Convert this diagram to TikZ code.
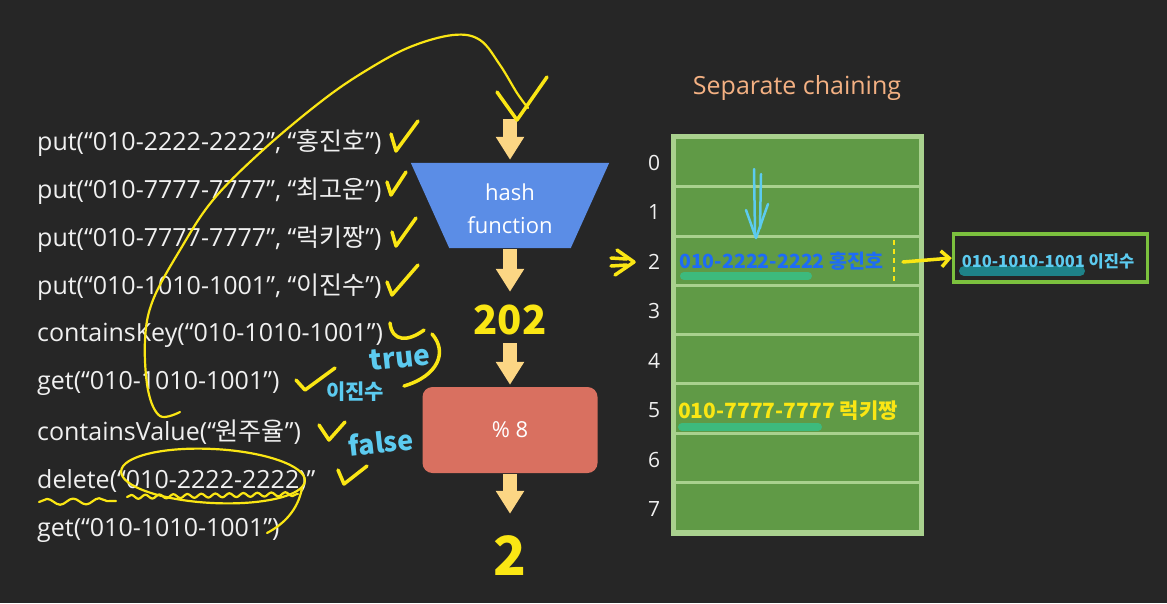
\documentclass[tikz,border=0pt]{standalone}
\usepackage{fontspec}
\setmainfont{Open Sans}
\newfontfamily\kr{Noto Sans CJK KR}
\usetikzlibrary{arrows.meta,decorations.pathmorphing}
\definecolor{bg}{RGB}{38,38,38}
\definecolor{txt}{RGB}{240,240,240}
\definecolor{arr}{RGB}{252,214,132}
\definecolor{hashblue}{RGB}{91,141,230}
\definecolor{modred}{RGB}{217,112,96}
\definecolor{tborder}{RGB}{169,209,142}
\definecolor{tgreen}{RGB}{96,154,70}
\definecolor{titlec}{RGB}{244,177,131}
\definecolor{hy}{RGB}{250,230,20}
\definecolor{hc}{RGB}{92,203,240}
\definecolor{hb}{RGB}{30,108,245}
\definecolor{hlg}{RGB}{61,186,125}
\definecolor{teal}{RGB}{30,130,136}
\definecolor{cgreen}{RGB}{124,193,62}
\newcommand{\K}[1]{{\kr #1}}
\begin{document}
\begin{tikzpicture}[x=1pt,y=-1pt,
  code/.style={anchor=west, inner sep=0pt, text=txt, font=\fontsize{25}{28}\selectfont},
  blockarrow/.style={draw=arr, line width=14pt, -{Triangle[width=27pt,length=23pt]}},
  rowbox/.style={fill=tgreen, inner sep=0pt, minimum width=243pt, minimum height=46.25pt},
  idx/.style={text=txt, inner sep=0pt, font=\fontsize{21}{21}\selectfont},
  hand/.style={draw=hy, line width=3.5pt, line cap=round, line join=round},
  handthin/.style={draw=hy, line width=2.2pt, line cap=round, line join=round},
  handfont/.style={inner sep=0pt, font=\kr\bfseries\fontsize{#1}{#1}\selectfont},
  hl/.style={line width=8pt, line cap=round}
]
\fill[bg] (0,0) rectangle (1167,603);
\useasboundingbox (0,0) rectangle (1167,603);

% ---- code lines ----
\node[code] (l1) at (37,143) {put(“010-2222-2222”, “\K{홍진호}”)};
\node[code] (l2) at (37,191) {put(“010-7777-7777”, “\K{최고운}”)};
\node[code] (l3) at (37,239) {put(“010-7777-7777”, “\K{럭키짱}”)};
\node[code] (l4) at (37,287) {put(“010-1010-1001”, “\K{이진수}")};
\node[code] (l5) at (37,335) {containsKey(“010-1010-1001”)};
\node[code] (l6) at (37,383) {get(“010-1010-1001”)};
\node[code] (l7) at (37,432) {containsValue(“\K{원주율}”)};
\node[code] (l8) at (37,481) {delete(“010-2222-2222)”};
\node[code] (l9) at (37,530) {get(“010-1010-1001”)};

% ---- hash function ----
\node[inner sep=0pt, minimum width=198pt, minimum height=85pt] (hash) at (510,205.5) {};
\fill[hashblue] (hash.north west) -- (hash.north east) -- ([xshift=-38.5pt]hash.south east) -- ([xshift=38.5pt]hash.south west) -- cycle;
\node[text=white, align=center, inner sep=0pt, font=\fontsize{22}{33}\selectfont] (hashlbl) at ([yshift=-3pt]hash.center) {hash\\function};

\node[fill=modred, rounded corners=10pt, minimum width=175pt, minimum height=86pt, inner sep=0pt, text=white, font=\fontsize{22}{22}\selectfont] (mod) at (510,430) {\% 8};

\node[handfont=40, text=hy, minimum height=50pt] (n202) at (510,320) {202};
\node[handfont=54, text=hy, minimum height=60pt] (two) at (510,556) {2};

\coordinate (in) at (510,119);
\draw[blockarrow, shorten >=3pt] (in) -- (hash.north);
\draw[blockarrow, shorten <=1pt, shorten >=3pt] (hash.south) -- (n202.north);
\draw[blockarrow, shorten <=-2pt, shorten >=2pt] (n202.south) -- (mod.north);
\draw[blockarrow, shorten <=1pt, shorten >=12pt] (mod.south) -- (two.north);

% ---- table ----
\node[text=titlec, inner sep=0pt, font=\fontsize{25}{25}\selectfont] (title) at (797,88) {Separate chaining};
\fill[tborder] (671,134) rectangle (924,536);
\foreach \i in {0,...,7} {
  \node[rowbox] (r\i) at (797.5,{162.125+49.25*\i}) {};
  \node[idx] (k\i) at (654,{162.5+49.5*\i}) {\i};
}

% row 2 content
\draw[hlg, hl] (684,276) -- (808,276);
\node[handfont=19.5, text=hb, anchor=west] (v2) at (679,261) {010-2222-2222 홍진호};
\draw[hy, line width=2pt, dash pattern=on 5pt off 4pt] ([xshift=-25pt,yshift=-3pt]r2.north east) -- ([xshift=-25pt,yshift=2pt]r2.south east);
% row 5 content
\draw[hlg, hl] (682,427) -- (818,427);
\node[handfont=21, text=hy, anchor=west] (v5) at (678,411) {010-7777-7777 럭키짱};

% chain node
\draw[teal, line width=10pt, line cap=round] (964,271) -- (1080,271);
\node[draw=cgreen, line width=3.5pt, minimum width=194pt, minimum height=48pt, inner sep=0pt] (chain) at (1050.5,258) {};
\node[handfont=16.5, text=hc] (chaintxt) at (1048,261) {010-1010-1001 이진수};
\coordinate (ptr) at (903,262);
\draw[hand, -{Straight Barb[length=8pt,width=16pt]}] (ptr) -- (chain.west);

% cyan double arrow in row 1
\draw[hc, line width=2.5pt, line cap=round] (754,169) -- (755,233);
\draw[hc, line width=2.5pt, line cap=round] (761,174) -- (760,228);
\draw[hc, line width=2.5pt, line cap=round, line join=round] (746,210) -- (756,238) -- (768,204);
% yellow double arrow to index 2
\draw[hand] (611,258) -- (627,259);
\draw[hand] (611,266) -- (627,265);
\draw[hand] (617,250) -- (634,262) -- (615,275);

% ---- annotations on the left ----
\draw[handthin] plot[smooth, tension=0.6] coordinates {(180,412) (160,416) (148,390) (145,340) (153,300) (180,250) (213,200) (263,150) (323,100) (367,70) (410,47) (453,35) (480,40) (500,65) (517,93) (528,108)};
\draw[hand] (497,92) -- (517,120) -- (547,77);

\draw[hand] (391,134) -- (396,151) -- (418,121);
\draw[hand] (387,182) -- (391,195) -- (406,172);
\draw[hand] (392,232) -- (396,246) -- (416,218);
\draw[hand] (387,282) -- (392,295) -- (418,265);
\draw[hand] (390,323) .. controls (392,342) and (408,342) .. (424,330);
\draw[hand] (432,334) .. controls (448,352) and (438,376) .. (404,386);
\draw[hand] (296,380) -- (305,390) -- (335,368);
\draw[hand] (319,425) -- (329,440) -- (345,422);
\draw[hand] (338,470) -- (344,484) -- (367,466);

\node[handfont=28, text=hc, rotate=6] (tru) at (400,358) {true};
\node[handfont=21, text=hc] (ijs) at (355,392) {이진수};
\node[handfont=27, text=hc, rotate=6] (fls) at (381,442) {false};

\draw[handthin, rotate around={-3:(213,476)}] (213,476) ellipse [x radius=92, y radius=27];
\draw[handthin] (302,488) .. controls (298,510) and (284,524) .. (267,533);
\draw[handthin, decorate, decoration={snake, amplitude=2pt, segment length=14pt}] (127,497) -- (298,494);
\draw[handthin, decorate, decoration={snake, amplitude=3pt, segment length=26pt}] (39,502) -- (116,501);
\end{tikzpicture}
\end{document}
